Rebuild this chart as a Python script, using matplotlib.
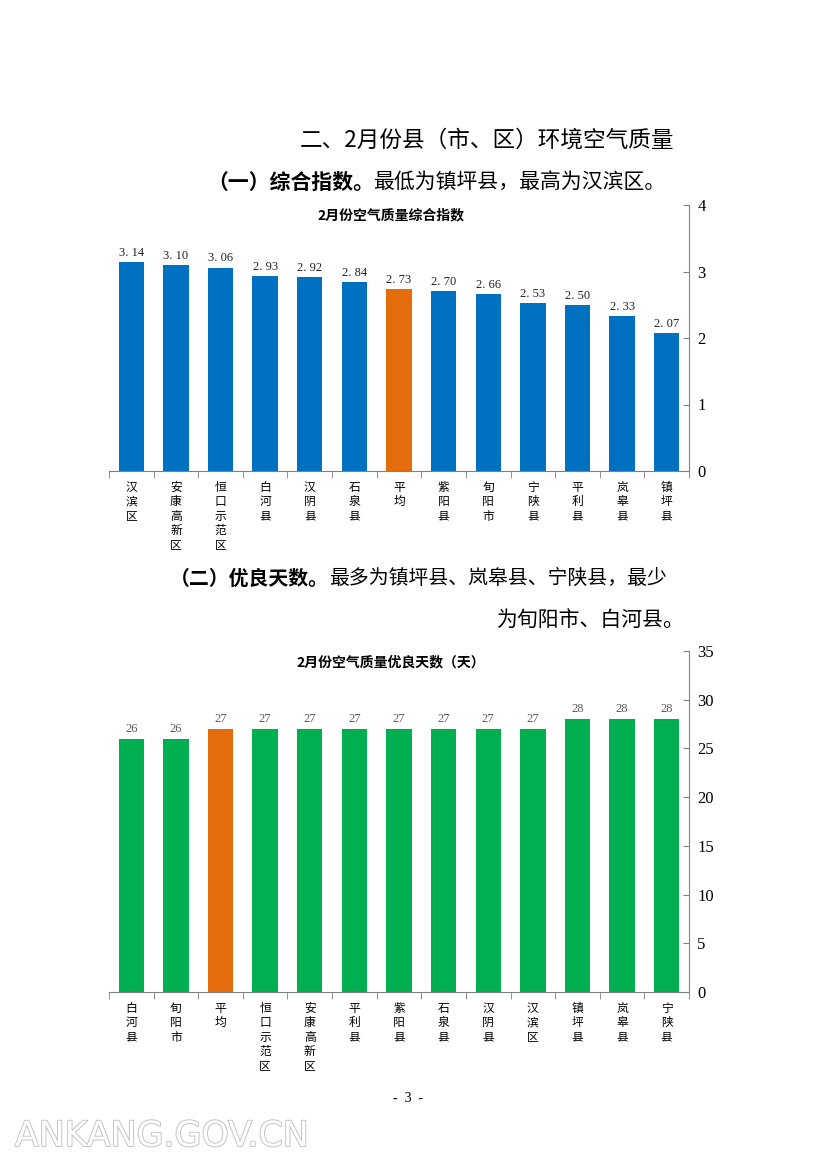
import matplotlib
matplotlib.use("Agg")
import matplotlib.pyplot as plt
import matplotlib.patheffects as pe

plt.rcParams["font.family"] = ["Noto Sans CJK SC", "DejaVu Sans"]

# 综合指数（图中顺序）
aqi_names = ["汉滨区", "安康高新区", "恒口示范区", "白河县", "汉阴县", "石泉县", "平均",
             "紫阳县", "旬阳市", "宁陕县", "平利县", "岚皋县", "镇坪县"]
aqi_values = [3.14, 3.10, 3.06, 2.93, 2.92, 2.84, 2.73, 2.70, 2.66, 2.53, 2.50, 2.33, 2.07]

# 优良天数（图中顺序）
day_names = ["白河县", "旬阳市", "平均", "恒口示范区", "安康高新区", "平利县", "紫阳县",
             "石泉县", "汉阴县", "汉滨区", "镇坪县", "岚皋县", "宁陕县"]
day_values = [26, 26, 27, 27, 27, 27, 27, 27, 27, 27, 28, 28, 28]

W, H = 827, 1169
fig = plt.figure(figsize=(W / 100, H / 100), dpi=100)


def px(x, y):
    return x / W, 1 - y / H


def page_text(x, y, s, size, **kw):
    fig.text(*px(x, y), s, fontsize=size, va="center", ha="left", **kw)


# 正文
page_text(300, 140, "二、2月份县（市、区）环境空气质量", 16.3, fontweight="medium")
page_text(207, 182, "（一）综合指数。", 15, fontweight="bold")
page_text(207 + 8 * 20.8, 182, "最低为镇坪县，最高为汉滨区。", 15)
page_text(170, 578, "（二）优良天数。", 14.3, fontweight="bold")
page_text(170 + 8 * 19.86, 578, "最多为镇坪县、岚皋县、宁陕县，最少", 14.3)
page_text(497, 620, "为旬阳市、白河县。", 15)
fig.text(*px(408, 1098), "-  3  -", fontsize=10, ha="center", va="center",
         family=["Liberation Serif"])
fig.text(*px(15, 1136), "ANKANG.GOV.CN", fontsize=25, ha="left", va="center",
         color="white", family=["DejaVu Sans"],
         path_effects=[pe.withStroke(linewidth=1.3, foreground="#c0c0c0")])


def bar_chart(rect, names, values, color, avg_color, ymax, step, fmt, title, title_y,
              label_color):
    ax = fig.add_axes(rect)
    x = range(len(values))
    colors = [avg_color if n == "平均" else color for n in names]
    ax.bar(x, values, width=0.57, color=colors)
    for i, v in zip(x, values):
        ax.text(i, v + ymax * 0.012, fmt(v), ha="center", va="bottom", fontsize=9,
                color=label_color, family=["Liberation Serif"])
    ax.set_xlim(-0.5, len(values) - 0.5)
    ax.set_ylim(0, ymax)
    ax.yaxis.tick_right()
    ax.set_yticks(range(0, ymax + 1, step))
    ax.tick_params(axis="y", direction="in", length=4, color="#808080", pad=6,
                   labelsize=12)
    for lab in ax.get_yticklabels():
        lab.set_family(["Liberation Serif"])
    ax.set_xticks(list(x))
    ax.set_xticklabels(["\n".join(n) for n in names], fontsize=8.5, linespacing=1.15,
                       va="top")
    ax.set_xticks([i - 0.5 for i in range(len(values) + 1)], minor=True)
    ax.tick_params(axis="x", which="major", length=0, pad=7)
    ax.tick_params(axis="x", which="minor", length=5, color="#808080")
    for s in ["top", "left"]:
        ax.spines[s].set_visible(False)
    for s in ["right", "bottom"]:
        ax.spines[s].set_color("#808080")
    fig.text(rect[0] + rect[2] * 0.5 - 0.01, 1 - title_y / H, title, fontsize=10,
             fontweight="bold", ha="center", va="center")
    return ax


bar_chart([109 / W, 1 - 471 / H, 580 / W, 266 / H], aqi_names, aqi_values,
          "#0070C0", "#E46C0A", 4, 1, lambda v: f"{v:.2f}".replace(".", ". "),
          "2月份空气质量综合指数", 215, "#222222")
bar_chart([109 / W, 1 - 992 / H, 580 / W, 341 / H], day_names, day_values,
          "#00B050", "#E46C0A", 35, 5, lambda v: f"{v}",
          "2月份空气质量优良天数（天）", 662, "#595959")

fig.savefig("out.png", dpi=100)
